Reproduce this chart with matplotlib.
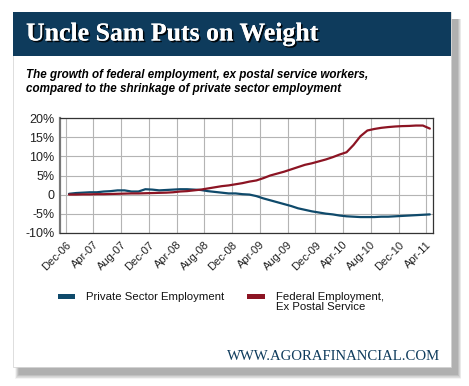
import matplotlib
matplotlib.use("Agg")
import matplotlib.pyplot as plt
import matplotlib.patheffects as pe
from matplotlib.patches import Rectangle
import numpy as np

W, H = 469, 386

# monthly values, Dec-06 .. Apr-11 (percent change)
private = [0.2, 0.4, 0.5, 0.6, 0.6, 0.8, 0.9, 1.1, 1.1, 0.8, 0.8, 1.4, 1.3,
           1.1, 1.2, 1.3, 1.4, 1.4, 1.3, 1.2, 0.9, 0.7, 0.5, 0.3, 0.3, 0.1,
           0.0, -0.4, -1.0, -1.5, -2.0, -2.5, -3.0, -3.6, -4.0, -4.4, -4.7,
           -5.0, -5.2, -5.5, -5.7, -5.8, -5.9, -5.9, -5.9, -5.8, -5.8, -5.7,
           -5.6, -5.5, -5.4, -5.3, -5.2]
federal = [0.0, 0.0, 0.05, 0.05, 0.1, 0.1, 0.15, 0.2, 0.25, 0.3, 0.3, 0.35,
           0.4, 0.45, 0.5, 0.6, 0.8, 0.9, 1.1, 1.3, 1.6, 1.9, 2.2, 2.4, 2.7,
           3.0, 3.4, 3.7, 4.3, 5.0, 5.5, 6.0, 6.6, 7.2, 7.8, 8.2, 8.7, 9.2,
           9.8, 10.5, 11.1, 13.0, 15.3, 16.8, 17.2, 17.5, 17.7, 17.85, 17.95,
           18.0, 18.1, 18.1, 17.3]
tick_labels = ["Dec-06", "Apr-07", "Aug-07", "Dec-07", "Apr-08", "Aug-08",
               "Dec-08", "Apr-09", "Aug-09", "Dec-09", "Apr-10", "Aug-10",
               "Dec-10", "Apr-11"]
y_ticks = [-10, -5, 0, 5, 10, 15, 20]
y_labels = ["-10%", "-5%", "0", "5%", "10%", "15%", "20%"]

NAVY = "#0e3b5c"
BLUE = "#0f4a6b"
RED = "#8c1423"


def fx(x):
    return x / W


def fy(y):
    return 1 - y / H


fig = plt.figure(figsize=(W / 100, H / 100), dpi=100)
fig.patch.set_facecolor("white")

# soft shadow behind the card
for k in range(8, 0, -1):
    fig.patches.append(Rectangle((fx(13 + 6 - k * 0.5), fy(367 + 7 + k * 0.6)),
                                 fx(438 + k), (367 - 12 + k * 0.6) / H,
                                 transform=fig.transFigure, facecolor="black",
                                 alpha=0.045, edgecolor="none", zorder=0))
# card
fig.patches.append(Rectangle((fx(13), fy(367)), fx(438), (367 - 12) / H,
                             transform=fig.transFigure, facecolor="white",
                             edgecolor="#d0d0d0", lw=0.5, zorder=1))
# header band
fig.patches.append(Rectangle((fx(13), fy(56)), fx(438), (56 - 12) / H,
                             transform=fig.transFigure, facecolor=NAVY,
                             edgecolor="none", zorder=2))

fig.text(fx(26), fy(34), "Uncle Sam Puts on Weight", color="white",
         fontsize=18.6, fontfamily="Liberation Serif", fontweight="bold",
         va="center", ha="left", zorder=3,
         path_effects=[pe.withSimplePatchShadow(offset=(1.2, -1.2),
                                                shadow_rgbFace="black",
                                                alpha=0.9), pe.Normal()])

fig.text(fx(26), fy(82), "The growth of federal employment, ex postal service workers,\n"
         "compared to the shrinkage of private sector employment",
         color="black", fontsize=8.4, fontfamily="Liberation Sans",
         fontweight="bold", fontstyle="italic", va="center", ha="left",
         linespacing=1.25, zorder=3)

ax = fig.add_axes([fx(60), fy(232.7), fx(433.3 - 60), (232.7 - 118.3) / H])
ax.set_zorder(3)
x = np.arange(len(private))
ax.plot(x, private, color=BLUE, lw=1.6, solid_capstyle="round")
ax.plot(x, federal, color=RED, lw=1.6, solid_capstyle="round")

ax.set_xlim(-1.3, 52.5)
ax.set_ylim(-10, 20)
ax.set_xticks(np.arange(len(tick_labels)) * 4 - 0.5)
ax.set_xticklabels(tick_labels, rotation=45, ha="right",
                   rotation_mode="anchor", fontsize=8,
                   fontfamily="Liberation Sans", color="#222222")
ax.set_yticks(y_ticks)
ax.set_yticklabels(y_labels, fontsize=9, fontfamily="Liberation Sans",
                   color="#222222")
ax.tick_params(length=0, pad=4)
ax.tick_params(axis="x", pad=5)
ax.grid(True, color="#b4b4b4", lw=0.8)
ax.set_axisbelow(True)
for s in ax.spines.values():
    s.set_color("#333333")
    s.set_linewidth(0.9)
ax.spines["left"].set_color("#777777")
ax.spines["left"].set_linewidth(1.6)

# legend
fig.patches.append(Rectangle((fx(58), fy(299)), fx(17), 5 / H,
                             transform=fig.transFigure, facecolor=BLUE,
                             edgecolor="none", zorder=3))
fig.text(fx(86), fy(297), "Private Sector Employment", fontsize=8.2,
         fontfamily="Liberation Sans", color="#111111", va="center",
         ha="left", zorder=3)
fig.patches.append(Rectangle((fx(247), fy(299)), fx(18), 5 / H,
                             transform=fig.transFigure, facecolor=RED,
                             edgecolor="none", zorder=3))
fig.text(fx(276), fy(292), "Federal Employment,\nEx Postal Service",
         fontsize=8.2, fontfamily="Liberation Sans", color="#111111",
         va="top", ha="left", linespacing=0.95, zorder=3)

fig.text(fx(440), fy(356), "WWW.AGORAFINANCIAL.COM", fontsize=10.6,
         fontfamily="Liberation Serif", color=NAVY, va="center", ha="right",
         zorder=3)

fig.savefig("out.png", dpi=100)
